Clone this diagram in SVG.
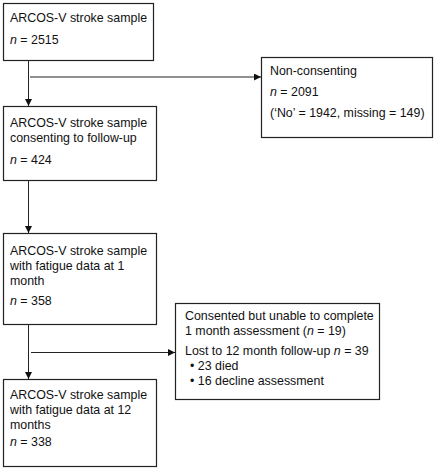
<svg xmlns="http://www.w3.org/2000/svg" width="435" height="470" viewBox="0 0 435 470">
<style>
.box{fill:#fff;stroke:#222;stroke-width:1.2}
text{font-family:"Liberation Sans",Arial,sans-serif;font-size:12.4px;fill:#111}
.ln{fill:none;stroke:#222;stroke-width:1}
</style>
<defs>
<marker id="ah" markerUnits="userSpaceOnUse" markerWidth="8" markerHeight="8" refX="7" refY="3.5" orient="auto">
<path d="M0,0 L7,3.5 L0,7 Z" fill="#111"/>
</marker>
</defs>
<rect width="435" height="470" fill="#fff"/>
<g id="connectors">
<line class="ln" x1="28.5" y1="60.5" x2="28.5" y2="106" marker-end="url(#ah)"/>
<line class="ln" x1="30" y1="77" x2="261" y2="77" marker-end="url(#ah)"/>
<line class="ln" x1="28.5" y1="180.5" x2="28.5" y2="233" marker-end="url(#ah)"/>
<line class="ln" x1="28.5" y1="324.5" x2="28.5" y2="379" marker-end="url(#ah)"/>
<line class="ln" x1="31" y1="352.5" x2="175" y2="352.5" marker-end="url(#ah)"/>
</g>
<g id="n1">
<rect class="box" x="3.5" y="3.5" width="150" height="57"/>
<text x="10" y="21.5">ARCOS-V stroke sample</text>
<text x="10" y="44"><tspan font-style="italic">n</tspan> = 2515</text>
</g>
<g id="n2">
<rect class="box" x="261.5" y="57.5" width="171" height="80"/>
<text x="270" y="75">Non-consenting</text>
<text x="270" y="96"><tspan font-style="italic">n</tspan> = 2091</text>
<text x="270" y="117">(‘No’ = 1942, missing = 149)</text>
</g>
<g id="n3">
<rect class="box" x="3.5" y="106.5" width="153" height="74"/>
<text x="10" y="127">ARCOS-V stroke sample</text>
<text x="10" y="142">consenting to follow-up</text>
<text x="10" y="164"><tspan font-style="italic">n</tspan> = 424</text>
</g>
<g id="n4">
<rect class="box" x="3.5" y="233.5" width="153" height="91"/>
<text x="10" y="255">ARCOS-V stroke sample</text>
<text x="10" y="270">with fatigue data at 1</text>
<text x="10" y="285">month</text>
<text x="10" y="305"><tspan font-style="italic">n</tspan> = 358</text>
</g>
<g id="n5">
<rect class="box" x="175.5" y="303.5" width="204" height="96"/>
<text x="185" y="320">Consented but unable to complete</text>
<text x="185" y="335">1 month assessment (<tspan font-style="italic">n</tspan> = 19)</text>
<text x="185" y="355">Lost to 12 month follow-up <tspan font-style="italic">n</tspan> = 39</text>
<text x="190" y="370">• 23 died</text>
<text x="190" y="385">• 16 decline assessment</text>
</g>
<g id="n6">
<rect class="box" x="3.5" y="379.5" width="153" height="87"/>
<text x="10" y="399">ARCOS-V stroke sample</text>
<text x="10" y="414">with fatigue data at 12</text>
<text x="10" y="429">months</text>
<text x="10" y="446"><tspan font-style="italic">n</tspan> = 338</text>
</g>
</svg>
